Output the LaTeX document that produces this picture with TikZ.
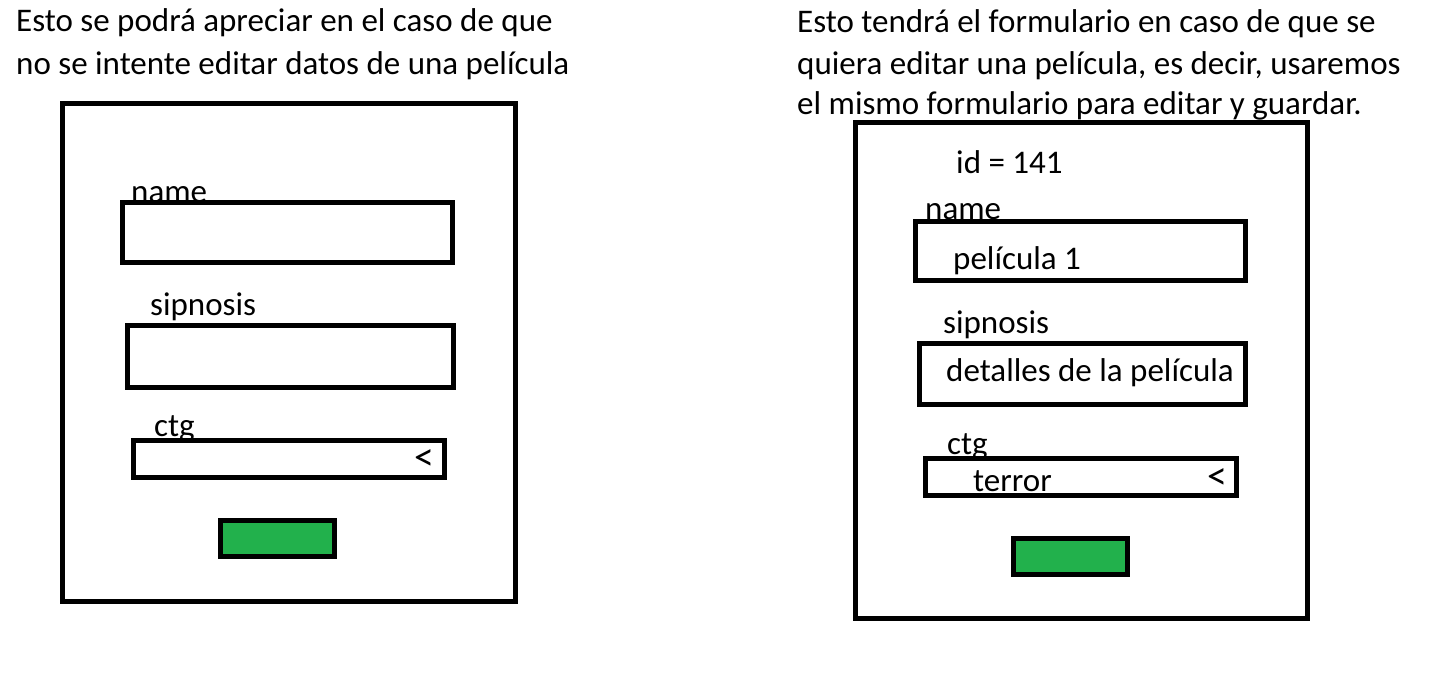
\documentclass[tikz,border=0pt]{standalone}
\usepackage{fontspec}
\setmainfont{Carlito}
\definecolor{btngreen}{HTML}{22B14C}
\begin{document}
\begin{tikzpicture}[x=1pt,y=-1pt,
  lbl/.style={anchor=base west,inner sep=0pt,font=\fontsize{33}{40}\selectfont},
  arr/.style={anchor=center,inner sep=0pt,font=\fontsize{40}{44}\selectfont},
  frame/.style={draw=black,line width=5pt},
  btn/.style={draw=black,line width=5pt,fill=btngreen}]
\useasboundingbox[fill=white] (0,0) rectangle (1439,697);
% left header
\node[lbl] (lh1) at (16,31.5) {Esto se podrá apreciar en el caso de que};
\node[lbl] (lh2) at (16,74) {no se intente editar datos de una película};
% right header
\node[lbl] (rh1) at (797,32) {Esto tendrá el formulario en caso de que se};
\node[lbl] (rh2) at (797,74) {quiera editar una película, es decir, usaremos};
\node[lbl] (rh3) at (797,114) {el mismo formulario para editar y guardar.};
% left form labels
\node[lbl] (lname) at (131,202) {name};
\node[lbl] (lsip) at (150,315) {sipnosis};
\node[lbl] (lctg) at (154,436) {ctg};
\node[arr] (larr) at (424.5,460.5) {<};
% left form boxes
\draw[frame] (62,103) rectangle (515,601);
\draw[frame] (122.5,202.5) rectangle (452.5,262.5);
\draw[frame] (127,325) rectangle (453.5,387);
\draw[frame] (133,440) rectangle (444,477);
\draw[btn] (220,520) rectangle (334,556);
% right form labels
\node[lbl] (rid) at (956,173) {id = 141};
\node[lbl] (rname) at (925,219) {name};
\node[lbl] (rpel) at (953,269) {película 1};
\node[lbl] (rsip) at (943,333) {sipnosis};
\node[lbl] (rdet) at (946,381) {detalles de la película};
\node[lbl] (rctg) at (947,454) {ctg};
\node[lbl] (rter) at (973,491) {terror};
\node[arr] (rarr) at (1217,479) {<};
% right form boxes
\draw[frame] (855.5,122.5) rectangle (1307.5,618.5);
\draw[frame] (915.5,221.5) rectangle (1245,280.5);
\draw[frame] (919.5,343) rectangle (1245.5,404.5);
\draw[frame] (925.5,458) rectangle (1236.5,495);
\draw[btn] (1013,538) rectangle (1127.5,574);
\end{tikzpicture}
\end{document}
